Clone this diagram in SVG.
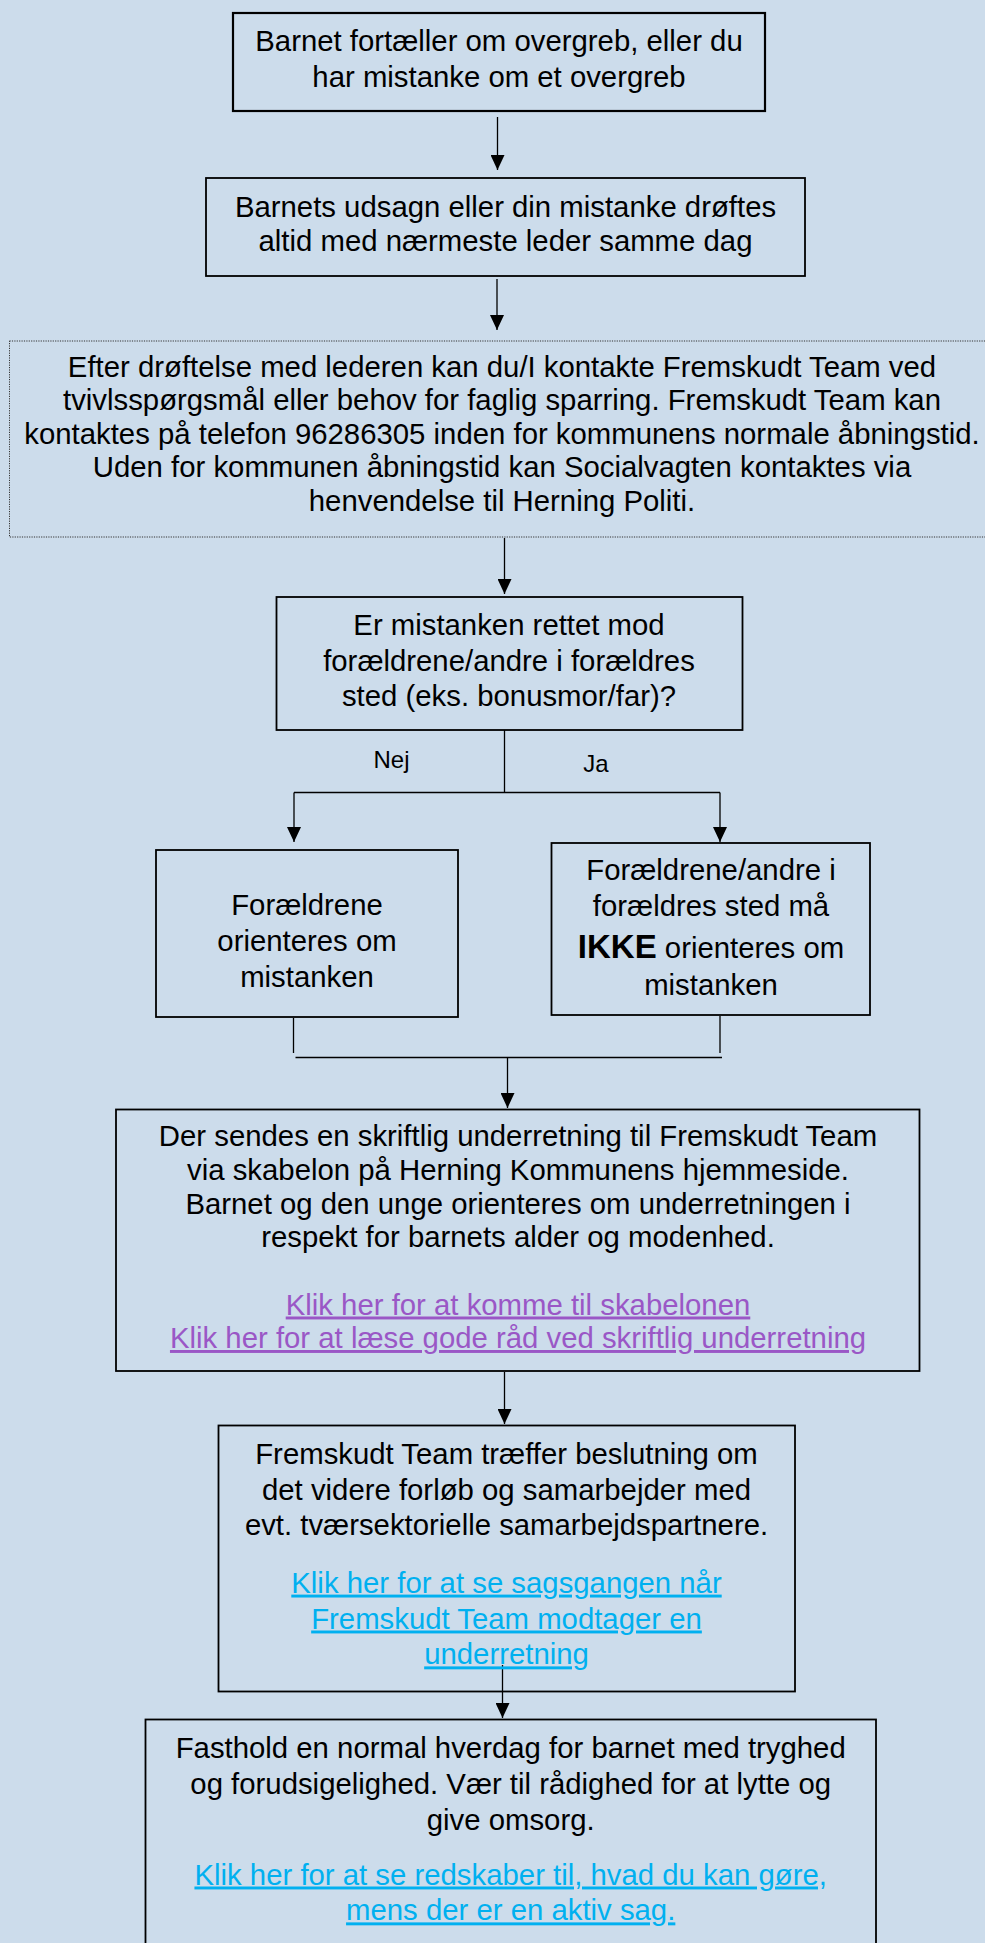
<svg xmlns="http://www.w3.org/2000/svg" width="985" height="1943" viewBox="0 0 985 1943">
<style>
.box{fill:none;stroke:#000;stroke-width:1.8}
.dot{fill:none;stroke:#333;stroke-width:1;stroke-dasharray:1.2 1.2}
.t{font-family:"Liberation Sans",Arial,sans-serif;font-size:29.33px;fill:#000;text-anchor:middle}
.lbl{font-family:"Liberation Sans",Arial,sans-serif;font-size:24px;fill:#000;text-anchor:middle}
.lp{fill:#9A57C6;text-decoration:underline}
.lb{fill:#00B0F0;text-decoration:underline}
.b{font-weight:bold;font-size:33px}
.c{fill:none;stroke:#000;stroke-width:1.3}
</style>
<defs>
<marker id="ah" markerUnits="userSpaceOnUse" markerWidth="15" markerHeight="14" viewBox="0 0 15 14" refX="15" refY="7" orient="auto">
<path d="M0,0 L15,7 L0,14 z" fill="#000"/>
</marker>
</defs>
<rect x="0" y="0" width="985" height="1943" fill="#CCDCEB"/>

<g id="connectors">
<line class="c" x1="497.5" y1="117" x2="497.5" y2="170" marker-end="url(#ah)"/>
<line class="c" x1="497" y1="279" x2="497" y2="330" marker-end="url(#ah)"/>
<line class="c" x1="504.5" y1="538" x2="504.5" y2="594" marker-end="url(#ah)"/>
<line class="c" x1="504.5" y1="730" x2="504.5" y2="793"/>
<line class="c" x1="294" y1="792.5" x2="720" y2="792.5"/>
<line class="c" x1="294" y1="792.5" x2="294" y2="842" marker-end="url(#ah)"/>
<line class="c" x1="720" y1="792.5" x2="720" y2="842" marker-end="url(#ah)"/>
<line class="c" x1="293.5" y1="1018" x2="293.5" y2="1053"/>
<line class="c" x1="720" y1="1016" x2="720" y2="1053"/>
<line class="c" x1="295.5" y1="1057.5" x2="722" y2="1057.5"/>
<line class="c" x1="507.5" y1="1057.5" x2="507.5" y2="1108" marker-end="url(#ah)"/>
<line class="c" x1="504.5" y1="1372" x2="504.5" y2="1424" marker-end="url(#ah)"/>
<line class="c" x1="502.5" y1="1665" x2="502.5" y2="1718" marker-end="url(#ah)"/>
</g>

<g id="n1">
<rect class="box" x="233" y="13" width="532" height="98" style="stroke-width:2.2"/>
<text class="t" x="499" y="51">Barnet fortæller om overgreb, eller du</text>
<text class="t" x="499" y="87">har mistanke om et overgreb</text>
</g>

<g id="n2">
<rect class="box" x="206" y="178" width="599" height="98"/>
<text class="t" x="505.5" y="216.5">Barnets udsagn eller din mistanke drøftes</text>
<text class="t" x="505.5" y="250.5">altid med nærmeste leder samme dag</text>
</g>

<g id="n3">
<rect class="dot" x="9.5" y="341" width="990" height="196"/>
<text class="t" x="502" y="376.5">Efter drøftelse med lederen kan du/I kontakte Fremskudt Team ved</text>
<text class="t" x="502" y="410">tvivlsspørgsmål eller behov for faglig sparring. Fremskudt Team kan</text>
<text class="t" x="502" y="443.5">kontaktes på telefon 96286305 inden for kommunens normale åbningstid.</text>
<text class="t" x="502" y="477">Uden for kommunen åbningstid kan Socialvagten kontaktes via</text>
<text class="t" x="502" y="510.5">henvendelse til Herning Politi.</text>
</g>

<g id="n4">
<rect class="box" x="276.5" y="597" width="466" height="133"/>
<text class="t" x="509" y="635">Er mistanken rettet mod</text>
<text class="t" x="509" y="670.5">forældrene/andre i forældres</text>
<text class="t" x="509" y="706">sted (eks. bonusmor/far)?</text>
</g>

<g id="lbl-nej"><text class="lbl" x="391.5" y="768">Nej</text></g>
<g id="lbl-ja"><text class="lbl" x="596" y="772">Ja</text></g>

<g id="n5">
<rect class="box" x="156" y="850" width="302" height="167"/>
<text class="t" x="307" y="915">Forældrene</text>
<text class="t" x="307" y="950.5">orienteres om</text>
<text class="t" x="307" y="986.5">mistanken</text>
</g>

<g id="n6">
<rect class="box" x="551.5" y="843" width="318.5" height="172"/>
<text class="t" x="711" y="880">Forældrene/andre i</text>
<text class="t" x="711" y="916">forældres sted må</text>
<text class="t" x="711" y="958"><tspan class="b">IKKE</tspan> orienteres om</text>
<text class="t" x="711" y="994.5">mistanken</text>
</g>

<g id="n7">
<rect class="box" x="116" y="1109.5" width="803.5" height="261.5"/>
<text class="t" x="518" y="1146">Der sendes en skriftlig underretning til Fremskudt Team</text>
<text class="t" x="518" y="1180">via skabelon på Herning Kommunens hjemmeside.</text>
<text class="t" x="518" y="1213.5">Barnet og den unge orienteres om underretningen i</text>
<text class="t" x="518" y="1247">respekt for barnets alder og modenhed.</text>
<text class="t lp" x="518" y="1314.5">Klik her for at komme til skabelonen</text>
<text class="t lp" x="518" y="1348">Klik her for at læse gode råd ved skriftlig underretning</text>
</g>

<g id="n8">
<rect class="box" x="218.5" y="1425.5" width="576.5" height="266"/>
<text class="t" x="506.5" y="1464.4">Fremskudt Team træffer beslutning om</text>
<text class="t" x="506.5" y="1499.8">det videre forløb og samarbejder med</text>
<text class="t" x="506.5" y="1535.3">evt. tværsektorielle samarbejdspartnere.</text>
<text class="t lb" x="506.5" y="1592.6">Klik her for at se sagsgangen når</text>
<text class="t lb" x="506.5" y="1628.5">Fremskudt Team modtager en</text>
<text class="t lb" x="506.5" y="1664.4">underretning</text>
</g>

<g id="n9">
<rect class="box" x="145.5" y="1719.5" width="730.5" height="260"/>
<text class="t" x="510.7" y="1757.7">Fasthold en normal hverdag for barnet med tryghed</text>
<text class="t" x="510.7" y="1793.6">og forudsigelighed. Vær til rådighed for at lytte og</text>
<text class="t" x="510.7" y="1829.6">give omsorg.</text>
<text class="t lb" x="510.7" y="1884.5">Klik her for at se redskaber til, hvad du kan gøre,</text>
<text class="t lb" x="510.7" y="1920.4">mens der er en aktiv sag.</text>
</g>
</svg>
